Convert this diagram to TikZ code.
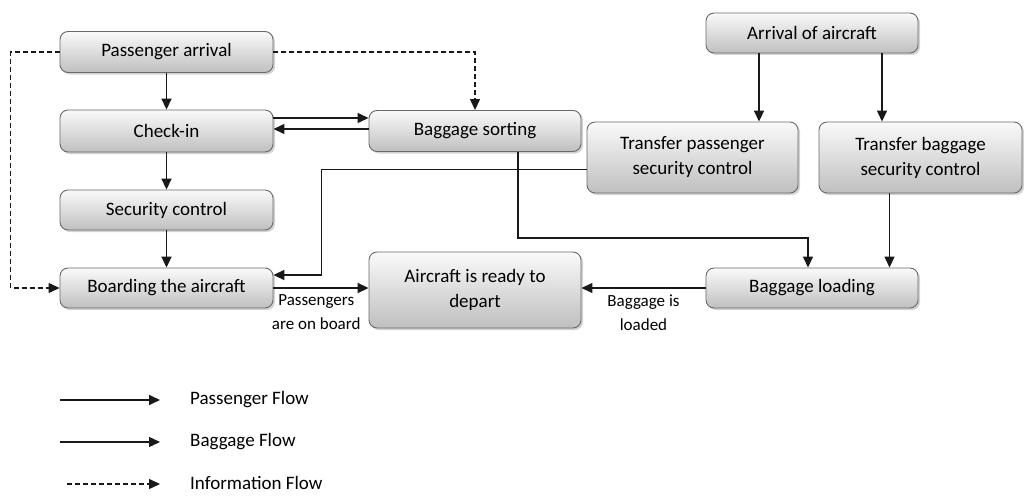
\documentclass[tikz,border=0pt]{standalone}
\usepackage{fontspec}
\setmainfont{Carlito}
\usepackage{xcolor}
\definecolor{apgray}{RGB}{105,105,105}
\definecolor{apline}{RGB}{25,25,25}
\usetikzlibrary{arrows.meta,positioning,shadows,calc}

\begin{document}
\begin{tikzpicture}[x=1pt,y=-1pt,
  apbox/.style={draw=apgray,line width=0.9pt,rounded corners=8pt,
    top color=gray!4,bottom color=gray!50,align=center,
    font=\fontsize{19}{25}\selectfont,inner sep=2pt,
    drop shadow={shadow xshift=2pt,shadow yshift=-2pt,opacity=0.35}},
  pflow/.style={draw=apline,line width=1.8pt,-{Triangle[length=11pt,width=10pt]}},
  bflow/.style={draw=apline,line width=1.3pt,-{Triangle[length=11pt,width=10pt]}},
  iflow/.style={draw=apline,line width=1.2pt,dash pattern=on 5pt off 3pt,
    -{Triangle[length=11pt,width=10pt]}},
  aplabel/.style={align=center,font=\fontsize{17}{24}\selectfont,inner sep=0pt}
]
  \useasboundingbox (0,0) rectangle (1024,495);

  % Passenger side
  \node[apbox,minimum width=213pt,minimum height=41pt] (pa) at (166.5,52) {Passenger arrival};
  \node[apbox,minimum width=213pt,minimum height=42pt] (ci) at (166.5,131) {Check-in};
  \node[apbox,minimum width=213pt,minimum height=40pt] (sc) at (166.5,210) {Security control};
  \node[apbox,minimum width=213pt,minimum height=40pt] (bd) at (166.5,288) {Boarding the aircraft};

  % Middle
  \node[apbox,minimum width=212pt,minimum height=41pt] (bs) at (475,131) {Baggage sorting};
  \node[apbox,minimum width=212pt,minimum height=76pt] (ac) at (475,290) {Aircraft is ready to\\depart};

  % Transfer side
  \node[apbox,minimum width=212pt,minimum height=40pt] (arr) at (812,33) {Arrival of aircraft};
  \node[apbox,minimum width=211pt,minimum height=71pt] (tp) at (692.5,157.5) {Transfer passenger\\security control};
  \node[apbox,minimum width=203pt,minimum height=71pt] (tb) at (920.5,157.5) {Transfer baggage\\security control};
  \node[apbox,minimum width=212pt,minimum height=40pt] (bl) at (812,288) {Baggage loading};

  % Passenger flow
  \draw[pflow] (pa.south) -- (ci.north);
  \draw[pflow] (ci.south) -- (sc.north);
  \draw[pflow] (sc.south) -- (bd.north);
  \draw[pflow] (bd.east) -- (bd.east -| ac.west)
    node[aplabel,pos=0.45,below=6pt] (pob) {Passengers\\are on board};
  \draw[pflow] ([xshift=-53pt]arr.south) -- ([xshift=-53pt]arr.south |- tp.north);
  \draw[pflow] ([yshift=-12pt]tp.west) -| ([xshift=48pt,yshift=13pt]bd.east) -- ([yshift=13pt]bd.east);

  % Baggage flow
  \draw[bflow] ([yshift=13pt]ci.east) -- ([yshift=13pt]ci.east -| bs.west);
  \draw[bflow] ([yshift=2pt]bs.west) -- ([yshift=2pt]bs.west -| ci.east);
  \draw[bflow] ([xshift=43pt]bs.south) -- ++(0,86) -| ([xshift=-4pt]bl.north);
  \draw[bflow] ([xshift=70pt]arr.south) -- ([xshift=70pt]arr.south |- tb.north);
  \draw[bflow] ([xshift=-31pt]tb.south) -- ([xshift=-31pt]tb.south |- bl.north);
  \draw[bflow] (bl.west) -- (bl.west -| ac.east)
    node[aplabel,midway,below=6pt] (bil) {Baggage is\\loaded};

  % Information flow
  \draw[iflow] (pa.west) -- ++(-49,0) |- (bd.west);
  \draw[iflow] (pa.east) -| (bs.north);

  % Legend
  \coordinate (lg1a) at (60,400);  \coordinate (lg1b) at (160,400);
  \coordinate (lg2a) at (60,442);  \coordinate (lg2b) at (160,442);
  \coordinate (lg3a) at (67,484);  \coordinate (lg3b) at (160,484);
  \draw[pflow] (lg1a) -- (lg1b);
  \draw[bflow] (lg2a) -- (lg2b);
  \draw[iflow] (lg3a) -- (lg3b);
  \node[aplabel,anchor=west,font=\fontsize{19}{23}\selectfont] (lgp) at (190,400) {Passenger Flow};
  \node[aplabel,anchor=west,font=\fontsize{19}{23}\selectfont] (lgb) at (190,442) {Baggage Flow};
  \node[aplabel,anchor=west,font=\fontsize{19}{23}\selectfont] (lgi) at (190,483) {Information Flow};
\end{tikzpicture}
\end{document}
